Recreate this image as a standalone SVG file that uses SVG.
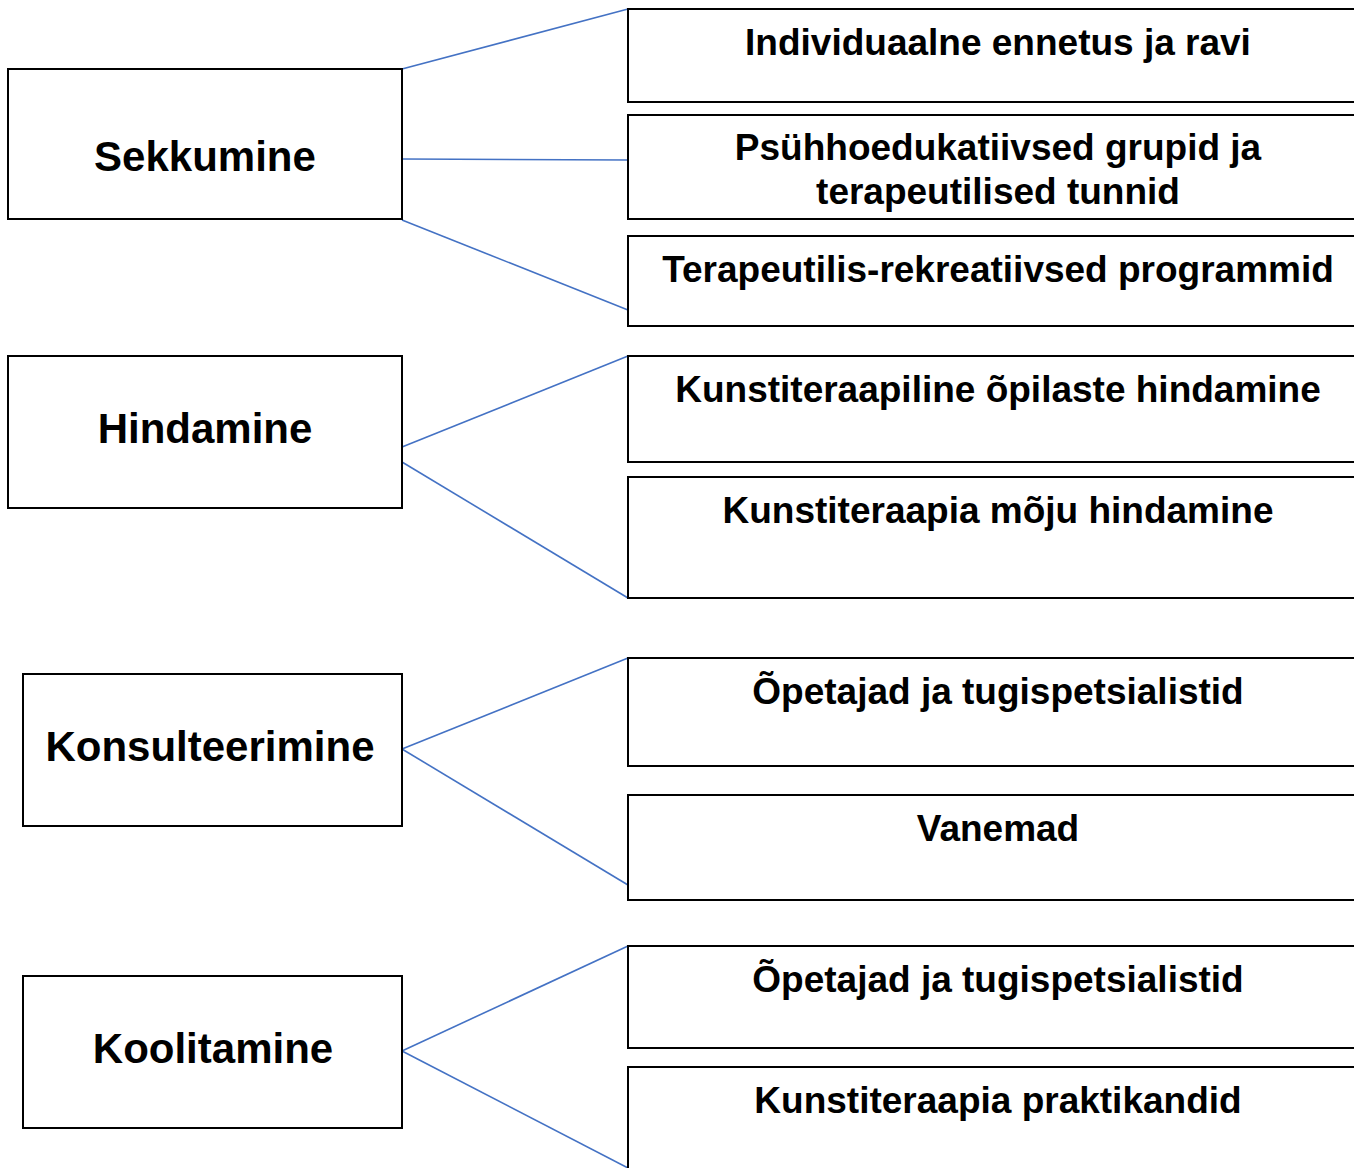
<svg xmlns="http://www.w3.org/2000/svg" width="1354" height="1168" viewBox="0 0 1354 1168">
<style>
.box{fill:#fff;stroke:#000;stroke-width:2}
.t{font-family:"Liberation Sans",Arial,sans-serif;font-weight:bold;fill:#000;text-anchor:middle}
.l{font-size:42px}
.r{font-size:37px}
.c{stroke:#4472C4;stroke-width:1.6;fill:none}
</style>
<rect width="1354" height="1168" fill="#fff"/>
<g id="connectors">
<line class="c" x1="402" y1="69" x2="628" y2="9"/>
<line class="c" x1="402" y1="159" x2="628" y2="160"/>
<line class="c" x1="402" y1="220" x2="628" y2="310"/>
<line class="c" x1="402" y1="447" x2="628" y2="356"/>
<line class="c" x1="402" y1="462" x2="628" y2="598"/>
<line class="c" x1="402" y1="749" x2="628" y2="658"/>
<line class="c" x1="402" y1="749" x2="628" y2="885"/>
<line class="c" x1="402" y1="1051" x2="628" y2="946"/>
<line class="c" x1="402" y1="1051" x2="628" y2="1168"/>
</g>
<g id="sekkumine"><rect class="box" x="8" y="69" width="394" height="150"/><text class="t l" x="205" y="171">Sekkumine</text></g>
<g id="hindamine"><rect class="box" x="8" y="356" width="394" height="152"/><text class="t l" x="205" y="443">Hindamine</text></g>
<g id="konsulteerimine"><rect class="box" x="23" y="674" width="379" height="152"/><text class="t l" x="210" y="761">Konsulteerimine</text></g>
<g id="koolitamine"><rect class="box" x="23" y="976" width="379" height="152"/><text class="t l" x="213" y="1063">Koolitamine</text></g>
<g id="n1"><rect class="box" x="628" y="9" width="740" height="93"/><text class="t r" x="998" y="55">Individuaalne ennetus ja ravi</text></g>
<g id="n2"><rect class="box" x="628" y="115" width="740" height="104"/><text class="t r" x="998" y="160">Psühhoedukatiivsed grupid ja</text><text class="t r" x="998" y="204">terapeutilised tunnid</text></g>
<g id="n3"><rect class="box" x="628" y="236" width="740" height="90"/><text class="t r" x="998" y="282">Terapeutilis-rekreatiivsed programmid</text></g>
<g id="n4"><rect class="box" x="628" y="356" width="740" height="106"/><text class="t r" x="998" y="402">Kunstiteraapiline õpilaste hindamine</text></g>
<g id="n5"><rect class="box" x="628" y="477" width="740" height="121"/><text class="t r" x="998" y="523">Kunstiteraapia mõju hindamine</text></g>
<g id="n6"><rect class="box" x="628" y="658" width="740" height="108"/><text class="t r" x="998" y="704">Õpetajad ja tugispetsialistid</text></g>
<g id="n7"><rect class="box" x="628" y="795" width="740" height="105"/><text class="t r" x="998" y="841">Vanemad</text></g>
<g id="n8"><rect class="box" x="628" y="946" width="740" height="102"/><text class="t r" x="998" y="992">Õpetajad ja tugispetsialistid</text></g>
<g id="n9"><rect class="box" x="628" y="1067" width="740" height="120"/><text class="t r" x="998" y="1113">Kunstiteraapia praktikandid</text></g>
</svg>
